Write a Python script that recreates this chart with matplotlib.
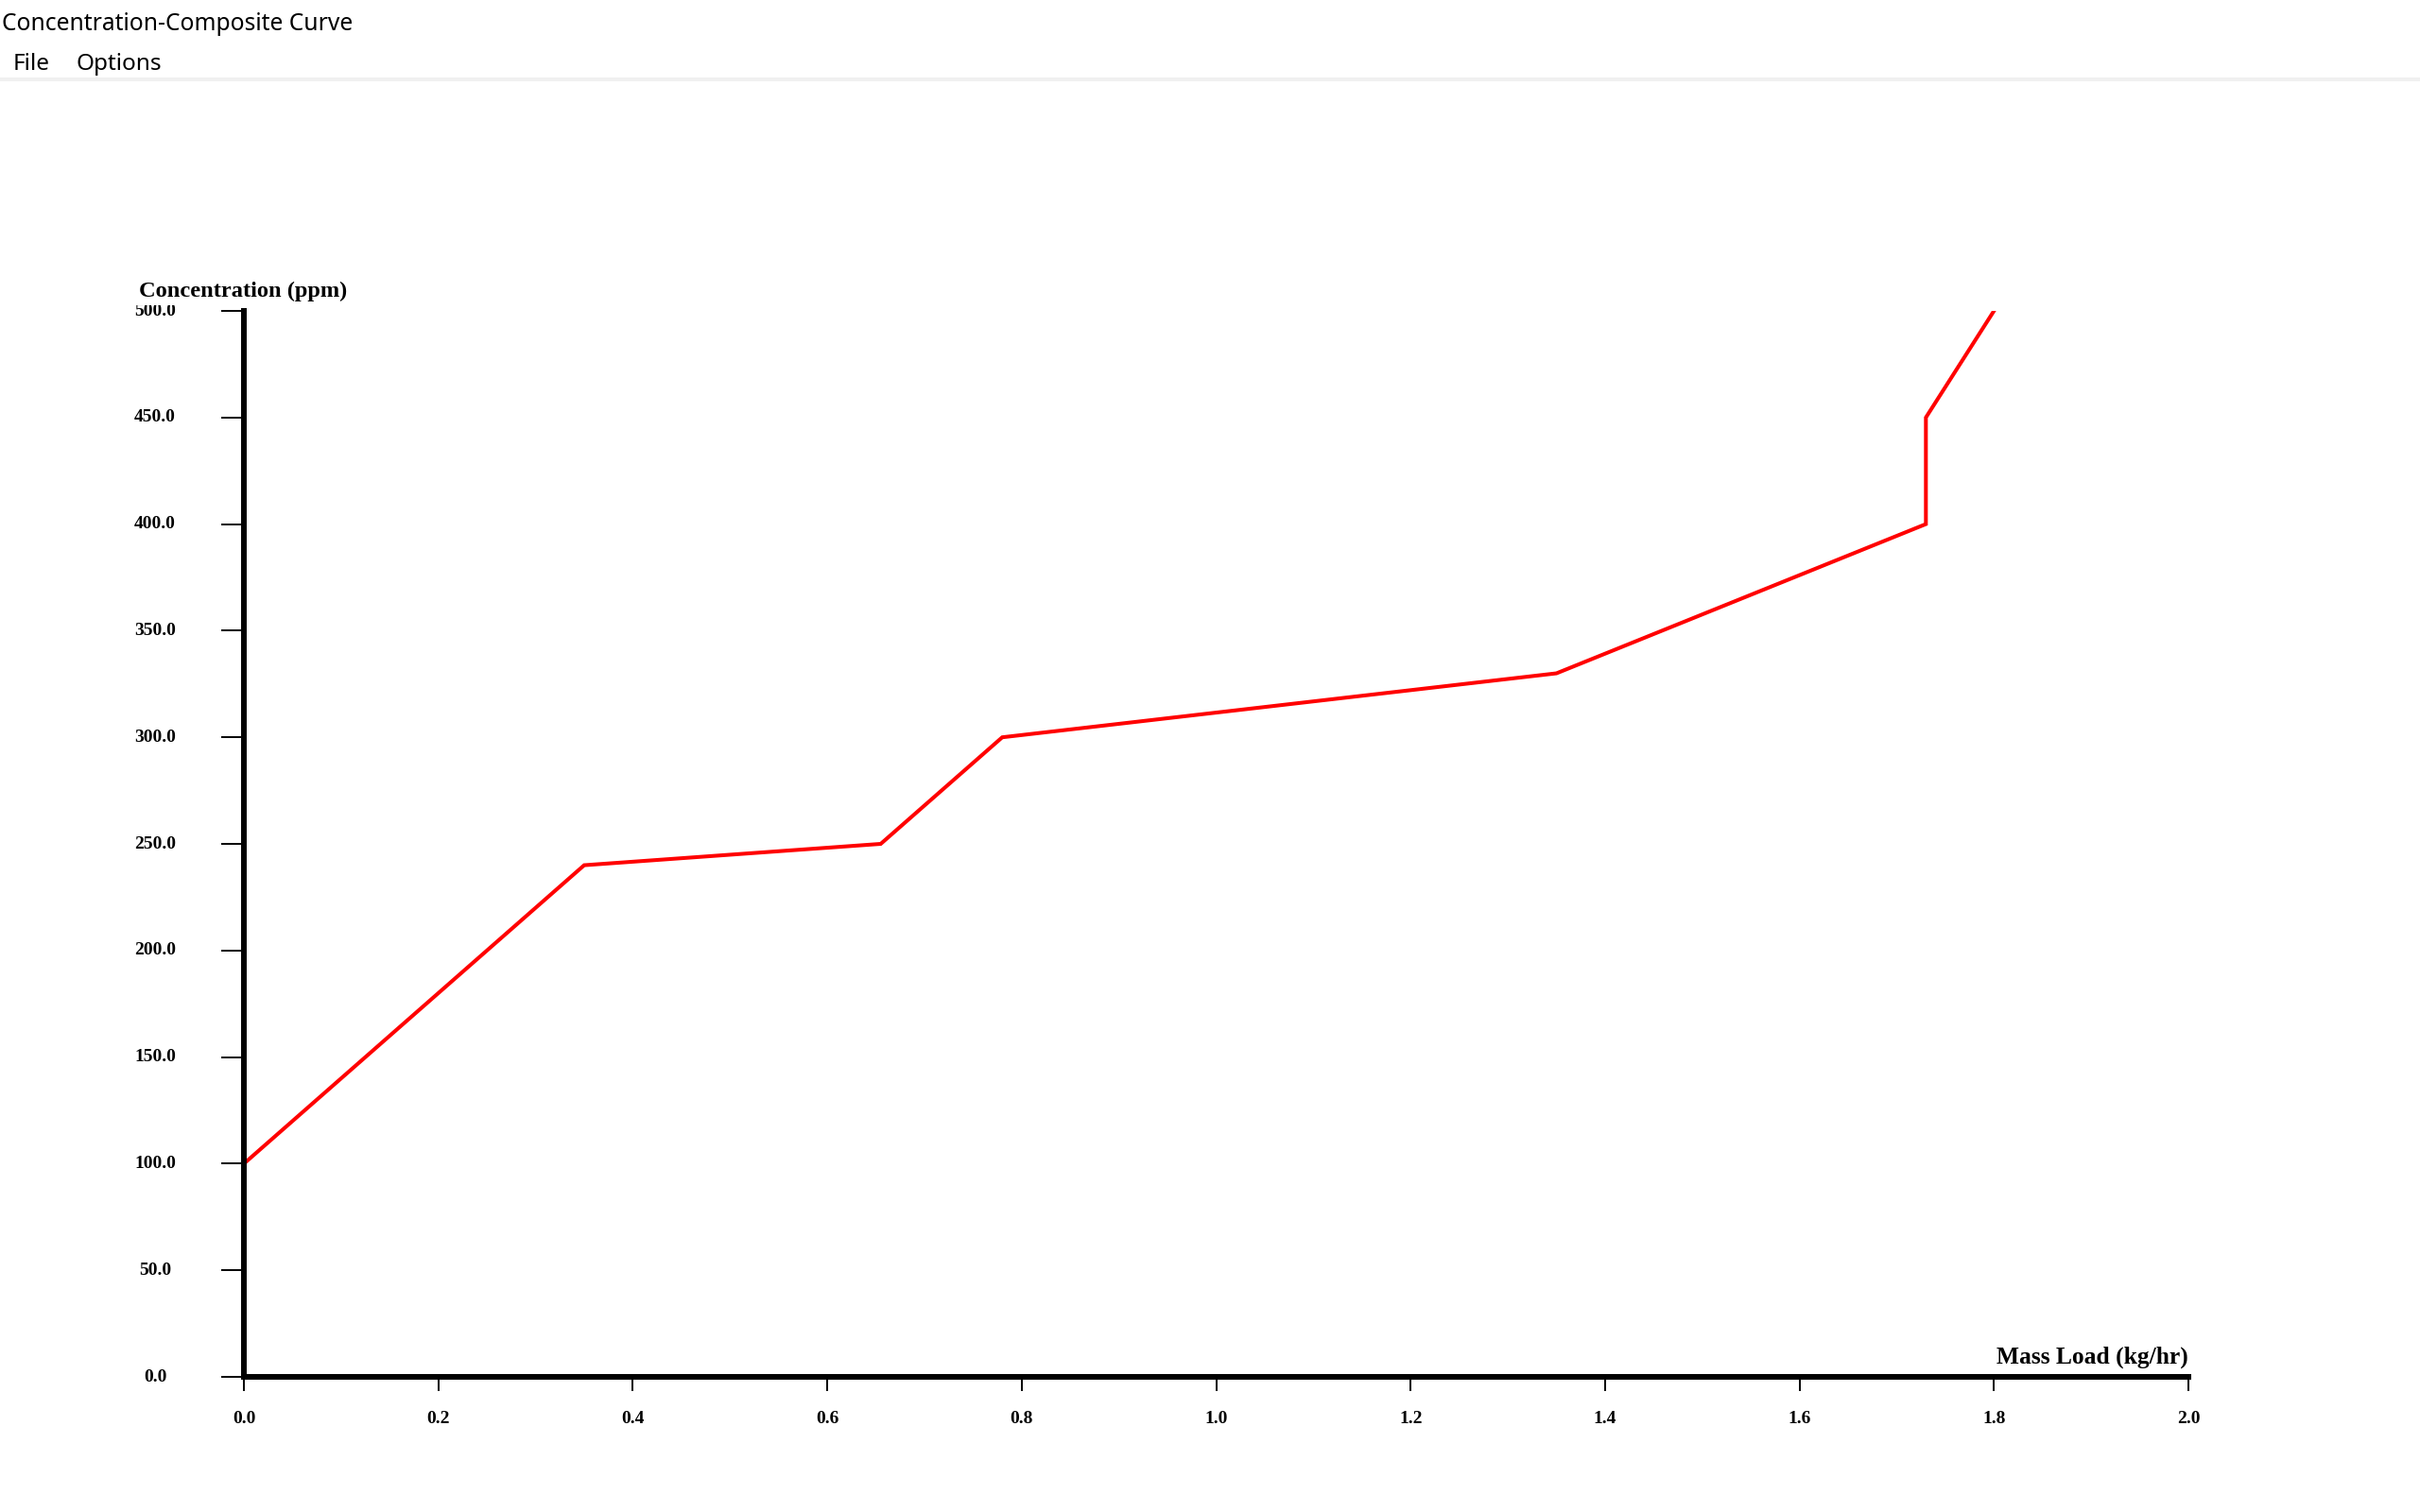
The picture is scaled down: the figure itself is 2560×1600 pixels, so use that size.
import matplotlib
matplotlib.use("Agg")
import matplotlib.pyplot as plt
from matplotlib.patches import Rectangle

# composite curve data
mass_load = [0.0, 0.35, 0.655, 0.78, 1.35, 1.73, 1.73, 1.80]
concentration = [100, 240, 250, 300, 330, 400, 450, 500]

x_ticks = [0.0, 0.2, 0.4, 0.6, 0.8, 1.0, 1.2, 1.4, 1.6, 1.8, 2.0]
y_ticks = [0, 50, 100, 150, 200, 250, 300, 350, 400, 450, 500]

window_title = "Concentration-Composite Curve"
menu_items = ["File", "Options"]
x_title = "Mass Load (kg/hr)"
y_title = "Concentration (ppm)"

W, H = 2560, 1600
fig = plt.figure(figsize=(W / 100, H / 100), dpi=100)
fig.patch.set_facecolor("white")

# window chrome: title + menu bar
ui_font = ["Noto Sans", "DejaVu Sans"]
fig.text(2 / W, 1 - 26 / H, window_title, fontfamily=ui_font, fontsize=17.7,
         va="center", ha="left", color="black")
fig.text(14 / W, 1 - 68 / H, menu_items[0], fontfamily=ui_font, fontsize=17.5,
         va="center", ha="left", color="black")
fig.text(80 / W, 1 - 68 / H, menu_items[1], fontfamily=ui_font, fontsize=17.5,
         va="center", ha="left", color="black")
fig.add_artist(Rectangle((0, 1 - 86 / H), 1, 4 / H, transform=fig.transFigure,
                         facecolor="#f0f0f0", edgecolor="none"))

# plot area
left, right, bottom, top = 258, 2315, 1457, 329
ax = fig.add_axes([left / W, 1 - bottom / H, (right - left) / W, (bottom - top) / H])
ax.plot(mass_load, concentration, color="#ff0000", linewidth=2.9, solid_joinstyle="miter")

ax.set_xlim(0, 2.0)
ax.set_ylim(0, 500)
for s in ["top", "right"]:
    ax.spines[s].set_visible(False)
for s in ["left", "bottom"]:
    ax.spines[s].set_linewidth(4.3)
    ax.spines[s].set_color("black")

serif = ["Liberation Serif", "DejaVu Serif"]
ax.set_xticks(x_ticks)
ax.set_xticklabels(["%.1f" % v for v in x_ticks], fontfamily=serif,
                   fontweight="bold", fontsize=14)
ax.set_yticks(y_ticks)
ax.set_yticklabels(["%.1f" % v for v in y_ticks], fontfamily=serif,
                   fontweight="bold", fontsize=14, ha="center", va="center")
ax.tick_params(axis="x", direction="out", length=11, width=1.4, pad=15)
ax.tick_params(axis="y", direction="out", length=17, width=1.4, pad=50.7)

# y title sits on a white box that hides the top of "500.0", as in the app
ax.set_ylabel(y_title, rotation=0, ha="left", va="center", fontfamily=serif,
              fontweight="bold", fontsize=17.6,
              bbox=dict(facecolor="white", edgecolor="none", pad=3.5))
ax.yaxis.set_label_coords((147 - left) / (right - left), (bottom - 308) / (bottom - top))
ax.set_xlabel(x_title, ha="right", va="baseline", fontfamily=serif,
              fontweight="bold", fontsize=18.4)
ax.xaxis.set_label_coords(1.0, (bottom - 1443) / (bottom - top))

fig.savefig("out.png", dpi=100, facecolor="white")
